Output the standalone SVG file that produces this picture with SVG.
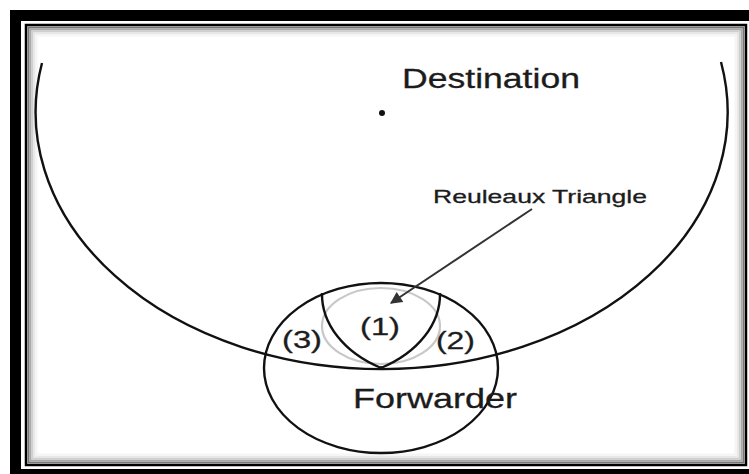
<svg xmlns="http://www.w3.org/2000/svg" width="749" height="474" viewBox="0 0 749 474">
<style>
.ln{fill:none;stroke:#111;stroke-width:2.4}
.tx{font-family:"Liberation Sans",Arial,sans-serif;fill:#1c1c1c;stroke:#1c1c1c;stroke-width:0.3}
</style>
<defs>
<marker id="ah" viewBox="0 0 10 10" refX="9" refY="5" markerWidth="15" markerHeight="12" markerUnits="userSpaceOnUse" orient="auto">
<path d="M0,0 L10,5 L0,10 z" fill="#333"/>
</marker>
</defs>
<rect x="0" y="0" width="749" height="474" fill="#ffffff"/>
<g id="frame">
<rect x="10" y="10" width="760" height="480" fill="#000"/>
<rect x="21" y="21" width="760" height="448" fill="#fff"/>
<rect x="26" y="25" width="720" height="440" fill="#fff" stroke="#000" stroke-width="2.5"/>
<rect x="28.5" y="27.5" width="715" height="435" fill="none" stroke="#777" stroke-width="2"/>
<rect x="30.5" y="29.5" width="711" height="431" fill="none" stroke="#a8a8a8" stroke-width="2"/>
<rect x="32.5" y="31.5" width="707" height="427" fill="none" stroke="#cfcfcf" stroke-width="2"/>
<rect x="34.5" y="33.5" width="703" height="423" fill="none" stroke="#e8e8e8" stroke-width="2"/>
<rect x="36.5" y="35.5" width="699" height="419" fill="none" stroke="#f5f5f5" stroke-width="2"/>
</g>
<g id="destination">
<path class="ln" d="M42 63 A346 257 0 1 0 721 62"/>
<circle cx="382" cy="113" r="3" fill="#111"/>
<text class="tx" x="402" y="88" font-size="27" textLength="178" lengthAdjust="spacingAndGlyphs">Destination</text>
</g>
<g id="forwarder">
<ellipse class="ln" cx="381" cy="368" rx="117" ry="85"/>
<circle cx="381" cy="368" r="2" fill="#111"/>
<text class="tx" x="353" y="408" font-size="28" textLength="164" lengthAdjust="spacingAndGlyphs">Forwarder</text>
</g>
<g id="reuleaux-triangle">
<ellipse cx="381" cy="326" rx="59" ry="38" fill="none" stroke="#c8c8c8" stroke-width="2.2"/>
<path class="ln" d="M322 293 A117 85 0 0 0 381 368"/>
<path class="ln" d="M440 293 A117 85 0 0 1 381 368"/>
<text class="tx" x="433" y="203" font-size="19" textLength="214" lengthAdjust="spacingAndGlyphs">Reuleaux Triangle</text>
</g>
<g id="region-1"><text class="tx" x="360" y="335" font-size="23" textLength="40" lengthAdjust="spacingAndGlyphs">(1)</text></g>
<g id="region-2"><text class="tx" x="436" y="349" font-size="23" textLength="39" lengthAdjust="spacingAndGlyphs">(2)</text></g>
<g id="region-3"><text class="tx" x="282" y="348" font-size="23" textLength="40" lengthAdjust="spacingAndGlyphs">(3)</text></g>
<g id="connectors">
<line x1="532" y1="209" x2="391" y2="303" stroke="#333" stroke-width="2" marker-end="url(#ah)"/>
</g>
</svg>
